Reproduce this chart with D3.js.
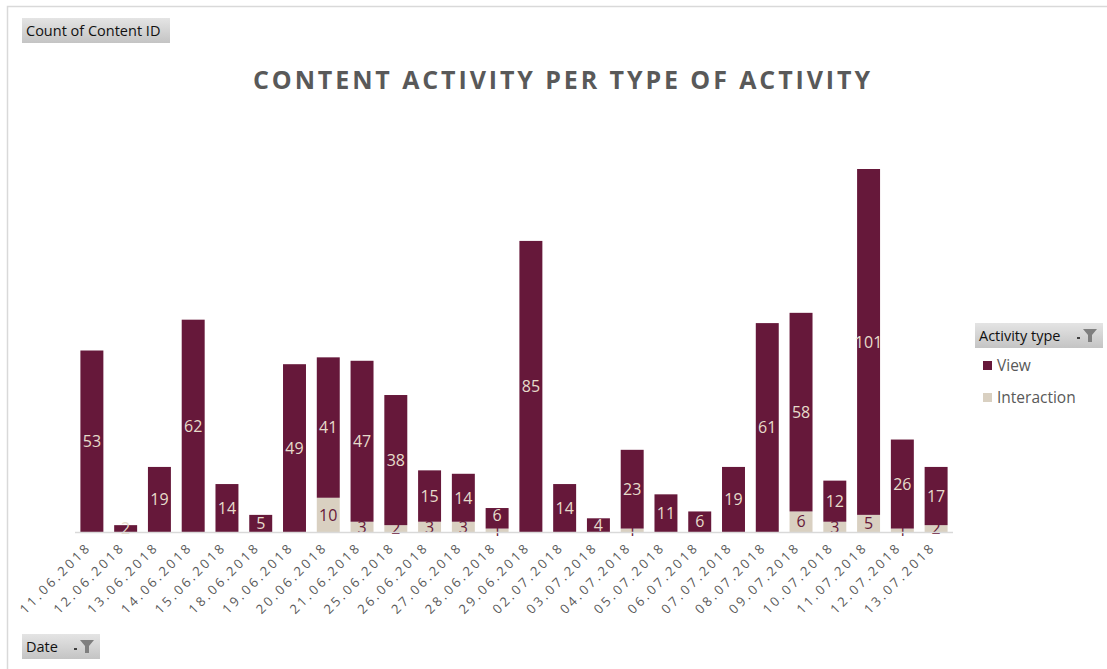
<!DOCTYPE html>
<html><head><meta charset="utf-8">
<script src="https://cdn.jsdelivr.net/npm/d3@7"></script>
<style>body{margin:0;background:#fff;}svg{display:block;font-family:"Open Sans",sans-serif;}</style>
</head><body>
<svg id="chart" width="1107" height="669"></svg>
<script>
const dates = ["11.06.2018","12.06.2018","13.06.2018","14.06.2018","15.06.2018","18.06.2018","19.06.2018","20.06.2018","21.06.2018","25.06.2018","26.06.2018","27.06.2018","28.06.2018","29.06.2018","02.07.2018","03.07.2018","04.07.2018","05.07.2018","06.07.2018","07.07.2018","08.07.2018","09.07.2018","10.07.2018","11.07.2018","12.07.2018","13.07.2018"];
const interaction = [0,0,0,0,0,0,0,10,3,2,3,3,1,0,0,0,1,0,0,0,0,6,3,5,1,2];
const view = [53,2,19,62,14,5,49,41,47,38,15,14,6,85,14,4,23,11,6,19,61,58,12,101,26,17];
const seriesNames = ["Interaction","View"];
const colors = {"View":"#66183a","Interaction":"#d9d0c1"};
const labelColors = {"View":"#e6dccb","Interaction":"#66183a"};

const svg = d3.select("#chart");
svg.append("rect").attr("x",7.5).attr("y",6.5).attr("width",1200).attr("height",800)
  .attr("fill","none").attr("stroke","#d9d9d9").attr("stroke-width",1.5);

const x = d3.scaleBand().domain(dates).range([75,953]).paddingInner(0.32).paddingOuter(0.16);
const y = d3.scaleLinear().domain([0,106]).range([532,169]);

const rows = dates.map((d,i)=>({date:d, Interaction:interaction[i], View:view[i]}));
const stacked = d3.stack().keys(seriesNames)(rows);

const g = svg.append("g");
stacked.forEach(s=>{
  const key = s.key;
  g.selectAll(null).data(s).enter().append("rect")
    .attr("x",d=>x(d.data.date)).attr("width",x.bandwidth())
    .attr("y",d=>y(d[1])).attr("height",d=>y(d[0])-y(d[1]))
    .attr("fill",colors[key]);
});

svg.append("line").attr("x1",75).attr("x2",953).attr("y1",532.5).attr("y2",532.5)
  .attr("stroke","#d9d9d9").attr("stroke-width",1.5);

stacked.forEach(s=>{
  const key = s.key;
  g.selectAll(null).data(s.filter(d=>d[1]-d[0]>0)).enter().append("text")
    .attr("x",d=>x(d.data.date)+x.bandwidth()/2)
    .attr("y",d=>(y(d[0])+y(d[1]))/2 + (key==="View" && d[0]>0 && d[0]<2 && d[1]-d[0]<10 ? -3 : 0))
    .attr("dy","0.36em").attr("text-anchor","middle")
    .attr("font-size",16).attr("fill",labelColors[key])
    .text(d=>d[1]-d[0]);
});

const xa = svg.append("g");
dates.forEach(d=>{
  const cx = x(d)+x.bandwidth()/2;
  xa.append("text").attr("transform",`translate(${cx},${548}) rotate(-45)`)
    .attr("text-anchor","end").attr("font-size",13).attr("fill","#595959")
    .attr("letter-spacing","2.8px").text(d);
});

svg.append("text").attr("x",253).attr("y",89).attr("font-size",25).attr("font-weight","bold")
  .attr("fill","#595959").attr("textLength",617).attr("lengthAdjust","spacing")
  .text("CONTENT  ACTIVITY  PER  TYPE  OF  ACTIVITY");

const defs = svg.append("defs");
const grad = defs.append("linearGradient").attr("id","btn").attr("x1",0).attr("x2",0).attr("y1",0).attr("y2",1);
grad.append("stop").attr("offset","0%").attr("stop-color","#e4e4e4");
grad.append("stop").attr("offset","100%").attr("stop-color","#c4c4c4");
function button(x0,y0,w,h,label,filter){
  svg.append("rect").attr("x",x0).attr("y",y0).attr("width",w).attr("height",h).attr("fill","url(#btn)");
  svg.append("text").attr("x",x0+4).attr("y",y0+h/2).attr("dy","0.35em").attr("font-size",14.5)
    .attr("fill","#111").text(label);
  if(filter){
    const fx = x0+w-20, fy = y0+6;
    svg.append("path").attr("d",`M${fx},${fy} h14 l-5,6 v7 h-4 v-7 z`).attr("fill","#7f7f7f");
    svg.append("rect").attr("x",fx-6).attr("y",fy+8).attr("width",3).attr("height",2).attr("fill","#404040");
  }
}
button(22,18,148,25,"Count of Content ID",false);
button(975,323,128,25,"Activity type",true);
button(22,634,78,25,"Date",true);

const legendItems = ["View","Interaction"];
legendItems.forEach((k,i)=>{
  const ly = 365+i*32;
  svg.append("rect").attr("x",983).attr("y",ly-4).attr("width",9).attr("height",9).attr("fill",colors[k]);
  svg.append("text").attr("x",997).attr("y",ly).attr("dy","0.38em").attr("font-size",15.5)
    .attr("fill","#595959").text(k);
});
</script>
</body></html>
